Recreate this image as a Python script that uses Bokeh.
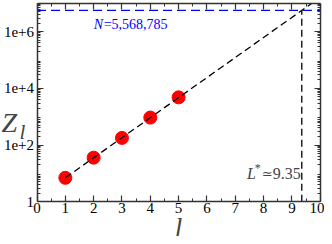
from bokeh.plotting import figure
from bokeh.models import (Range1d, LogAxis, LinearAxis, FixedTicker, Label, CustomJSTickFormatter)
from bokeh.embed import file_html
from bokeh.resources import INLINE

# ---- data ----
l_vals = [1, 2, 3, 4, 5]
Z_vals = [7.0, 36, 179, 930, 4800]
fit_l = [1, 9.71]
fit_Z = [7.0, 1e7]
N_total = 5568785
L_star = 9.35
x_ticks = [0, 1, 2, 3, 4, 5, 6, 7, 8, 9, 10]
y_major = [1, 1e2, 1e4, 1e6]
y_major_labels = ["1", "1e+2", "1e+4", "1e+6"]
X_MIN, X_MAX = 0, 10
Y_MIN, Y_MAX = 1, 1e7

SERIF = "Liberation Serif"
AX = "#333333"

# the frame covers the whole canvas; axes are pinned with fixed_location
p = figure(width=324, height=236, output_backend="svg", toolbar_location=None,
           x_range=Range1d(-1.289, 10.152), y_range=Range1d(0.0598, 1.245e7),
           y_axis_type="log", min_border=0,
           x_axis_location=None, y_axis_location=None)
p.grid.visible = False
p.outline_line_color = None
p.background_fill_color = "white"
p.border_fill_color = "white"

minor_x = [t + 0.5 for t in x_ticks[:-1]]
minor_y = [m * 10 ** k for k in range(0, 7) for m in range(2, 10)]


def style(ax, labels=True, size="15px", standoff=2):
    ax.axis_line_color = AX
    ax.axis_line_width = 1.5
    ax.major_tick_line_color = AX
    ax.minor_tick_line_color = AX
    ax.major_tick_line_width = 1.2
    ax.minor_tick_line_width = 1
    ax.major_tick_in = 6
    ax.major_tick_out = 0
    ax.minor_tick_in = 3
    ax.minor_tick_out = 0
    ax.major_label_text_font = SERIF
    ax.major_label_text_color = "black"
    if labels:
        ax.major_label_text_font_size = size
        ax.major_label_standoff = standoff
    else:
        ax.formatter = CustomJSTickFormatter(code="return ''")
        ax.major_label_text_font_size = "1px"
        ax.major_label_standoff = 0


xb = LinearAxis(ticker=FixedTicker(ticks=x_ticks, minor_ticks=minor_x),
                fixed_location=Y_MIN, bounds=(X_MIN, X_MAX))
style(xb, True, "15px", 1)
p.add_layout(xb, "below")

xt = LinearAxis(ticker=FixedTicker(ticks=x_ticks, minor_ticks=minor_x),
                fixed_location=Y_MAX, bounds=(X_MIN, X_MAX))
style(xt, False)
p.add_layout(xt, "above")

yl = LogAxis(ticker=FixedTicker(ticks=y_major, minor_ticks=minor_y),
             fixed_location=X_MIN, bounds=(Y_MIN, Y_MAX))
style(yl, True, "15px", 3)
yl.major_label_overrides = {float(v): s for v, s in zip(y_major, y_major_labels)}
p.add_layout(yl, "left")

yr = LogAxis(ticker=FixedTicker(ticks=y_major, minor_ticks=minor_y),
             fixed_location=X_MAX, bounds=(Y_MIN, Y_MAX))
style(yr, False)
p.add_layout(yr, "right")

# points, then fit line on top
p.scatter(l_vals, Z_vals, size=13, fill_color="#ff0000", line_color="#ff0000")
p.line(fit_l, fit_Z, line_color="black", line_width=1.3, line_dash="7 4")

# reference lines
p.segment(x0=[X_MIN], y0=[N_total], x1=[X_MAX], y1=[N_total], line_color="#0000ff",
          line_width=1.3, line_dash="9 5")
p.segment(x0=[L_star], y0=[Y_MIN], x1=[L_star], y1=[N_total], line_color="black",
          line_width=1.3, line_dash="7 4")

# N label
p.add_layout(Label(x=2.0, y=N_total, y_offset=-14, text="N", text_font=SERIF,
                   text_font_style="italic", text_font_size="14px", text_color="#0000ff",
                   text_align="left", text_baseline="alphabetic"))
p.add_layout(Label(x=2.0, y=N_total, x_offset=10, y_offset=-14, text="=5,568,785",
                   text_font=SERIF, text_font_size="14px", text_color="#0000ff",
                   text_align="left", text_baseline="alphabetic"))

# L* label
p.add_layout(Label(x=L_star, y=10, x_offset=-1, text="9.35", text_font=SERIF,
                   text_font_size="16px", text_align="right", text_baseline="alphabetic"))
p.add_layout(Label(x=L_star, y=10, x_offset=-29, text="\u2243", text_font="DejaVu Serif",
                   text_font_size="13px", text_align="right", text_baseline="alphabetic"))
p.add_layout(Label(x=L_star, y=10, x_offset=-41, y_offset=5, text="*", text_font=SERIF,
                   text_font_size="12px", text_align="right", text_baseline="alphabetic"))
p.add_layout(Label(x=L_star, y=10, x_offset=-46, text="L", text_font=SERIF,
                   text_font_style="italic", text_font_size="16px", text_align="right",
                   text_baseline="alphabetic"))

# axis titles
p.add_layout(Label(x=-1.254, y=624, text="Z", text_font=SERIF, text_font_style="italic",
                   text_font_size="28px", text_align="left", text_baseline="alphabetic"))
p.add_layout(Label(x=-0.618, y=277, text="l", text_font=SERIF, text_font_style="italic",
                   text_font_size="21px", text_align="left", text_baseline="alphabetic"))
p.add_layout(Label(x=5.0, y=0.124, text="l", text_font=SERIF, text_font_style="italic",
                   text_font_size="27px", text_align="center", text_baseline="alphabetic"))

open("out.html", "w").write(file_html(p, INLINE))
